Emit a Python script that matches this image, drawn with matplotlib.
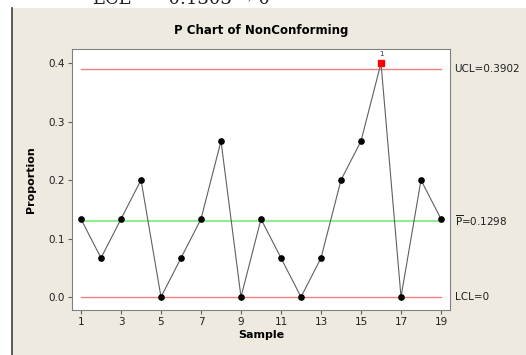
import matplotlib
matplotlib.use("Agg")
import matplotlib.pyplot as plt
from matplotlib.patches import Rectangle
import numpy as np

# defectives per sample, subgroup size 15
sample = np.arange(1, 20)
defectives = [2, 1, 2, 3, 0, 1, 2, 4, 0, 2, 1, 0, 1, 3, 4, 6, 0, 3, 2]
n_per_sample = 15
proportion = np.array(defectives) / n_per_sample

p_bar = 0.1298
ucl = 0.3902
lcl = 0.0
x_ticks = [1, 3, 5, 7, 9, 11, 13, 15, 17, 19]
y_ticks = [0.0, 0.1, 0.2, 0.3, 0.4]

W, H = 526, 355
fig = plt.figure(figsize=(W / 100, H / 100), dpi=100)
fig.patch.set_facecolor("white")

# beige window panel with the dark left border
panel = Rectangle((12 / W, 0), 1 - 12 / W, 1 - 8 / H, transform=fig.transFigure,
                  facecolor="#EEEAE0", edgecolor="none", zorder=-5)
fig.add_artist(panel)
fig.add_artist(plt.Line2D([11.5 / W, 11.5 / W], [0, 1 - 8 / H],
                          transform=fig.transFigure, color="#404040", lw=1.2,
                          zorder=-4))

# bit of the document line above the panel
fig.text(93 / W, 1 - 4 / H, "LCL  =  0.1303 \u2192 0", family="DejaVu Serif",
         fontsize=13, va="baseline", ha="left", color="#202020", zorder=-3)

ax = fig.add_axes([72 / W, 1 - 310 / H, (450 - 72) / W, (310 - 49) / H])
ax.set_zorder(5)
ax.set_facecolor("white")

ax.axhline(ucl, xmin=0.025, xmax=0.975, color="#F08080", lw=1.0, zorder=1)
ax.axhline(lcl, xmin=0.025, xmax=0.975, color="#F08080", lw=1.0, zorder=1)
ax.axhline(p_bar, xmin=0.025, xmax=0.975, color="#90EE90", lw=1.5, zorder=1)

ax.plot(sample, proportion, color="#606060", lw=0.8, zorder=2)
ok = proportion <= ucl
ax.plot(sample[ok], proportion[ok], "o", color="black", ms=3.8, zorder=3)
ax.plot(sample[~ok], proportion[~ok], "s", color="#FF0000", ms=3.8, zorder=3)
for xs, ys in zip(sample[~ok], proportion[~ok]):
    ax.annotate("1", (xs, ys), xytext=(0, 4), textcoords="offset points",
                ha="center", va="bottom", fontsize=5, color="#303060")

ax.set_xlim(0.55, 19.45)
ax.set_ylim(-0.0222, 0.424)
ax.set_xticks(x_ticks)
ax.set_yticks(y_ticks)
ax.set_yticklabels([f"{v:.1f}" for v in y_ticks])
ax.tick_params(labelsize=7.5, length=3, width=0.8, color="#606060",
               labelcolor="#202020", pad=2)
for s in ax.spines.values():
    s.set_color("#808080")
    s.set_linewidth(0.8)

ax.set_xlabel("Sample", fontsize=8, fontweight="bold", labelpad=2)
ax.set_ylabel("Proportion", fontsize=8, fontweight="bold", labelpad=9)
ax.set_title("P Chart of NonConforming", fontsize=8.5, fontweight="bold", pad=11)

# limit labels on the right
for yv, txt in [(ucl, "UCL=0.3902"), (p_bar, r"$\overline{\mathrm{P}}$=0.1298"),
                (lcl, "LCL=0")]:
    ax.text(1.012, yv, txt, transform=ax.get_yaxis_transform(), fontsize=7.5,
            va="center", ha="left", color="#202020")

fig.savefig("out.png", dpi=100, facecolor=fig.get_facecolor())
